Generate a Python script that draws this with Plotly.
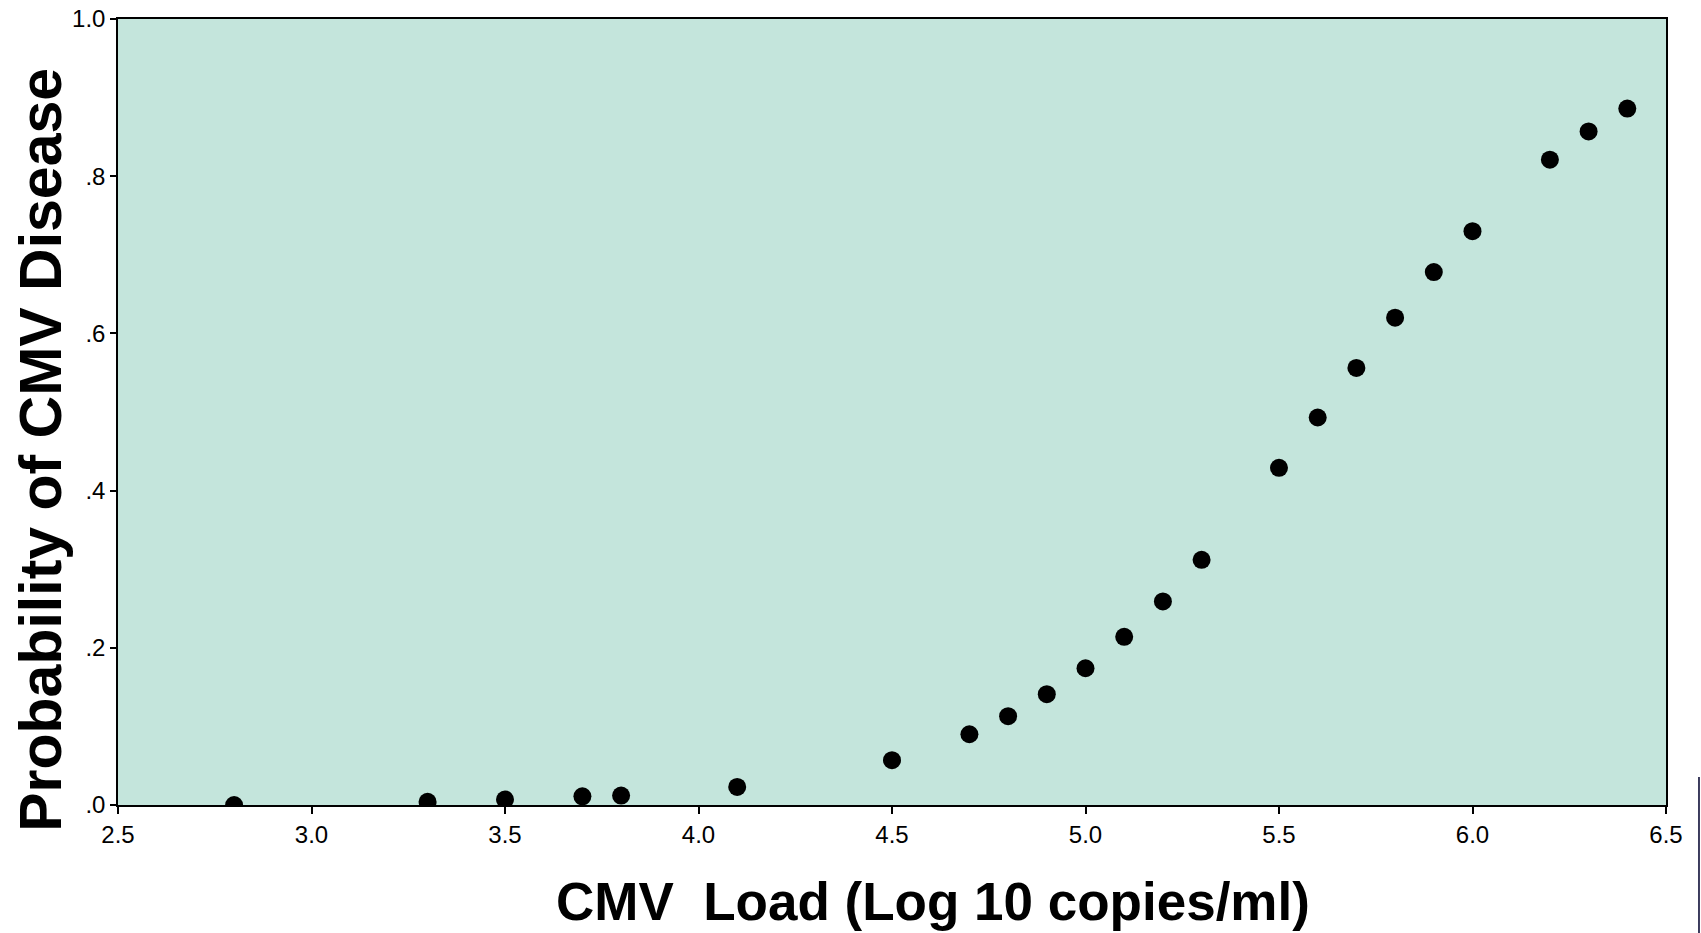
import plotly.graph_objects as go

x_load = [2.8, 3.3, 3.5, 3.7, 3.8, 4.1, 4.5, 4.7, 4.8, 4.9, 5.0, 5.1, 5.2, 5.3,
          5.5, 5.6, 5.7, 5.8, 5.9, 6.0, 6.2, 6.3, 6.4]
y_prob = [0.0, 0.004, 0.007, 0.011, 0.012, 0.023, 0.057, 0.090, 0.113, 0.141,
          0.174, 0.214, 0.259, 0.312, 0.429, 0.493, 0.556, 0.620, 0.678, 0.730,
          0.821, 0.857, 0.886]

x_ticks = [2.5, 3.0, 3.5, 4.0, 4.5, 5.0, 5.5, 6.0, 6.5]
x_ticktext = ["2.5", "3.0", "3.5", "4.0", "4.5", "5.0", "5.5", "6.0", "6.5"]
y_ticks = [0.0, 0.2, 0.4, 0.6, 0.8, 1.0]
y_ticktext = [".0", ".2", ".4", ".6", ".8", "1.0"]

x_title = "CMV&nbsp; Load (Log 10 copies/ml)"
y_title = "Probability of CMV Disease"

font_fam = "Arial, Liberation Sans, sans-serif"

fig = go.Figure()
fig.add_trace(go.Scatter(
    x=x_load, y=y_prob, mode="markers",
    marker=dict(color="black", size=18),
    cliponaxis=True, showlegend=False,
))

fig.update_layout(
    width=1701, height=933,
    margin=dict(l=118, r=35, t=19, b=128),
    paper_bgcolor="white",
    plot_bgcolor="#c4e5dc",
    font=dict(family=font_fam, color="black"),
    xaxis=dict(
        range=[2.5, 6.5], tickvals=x_ticks, ticktext=x_ticktext, automargin=False,
        showgrid=False, zeroline=False, showline=True, linecolor="black",
        linewidth=1.5, mirror=True, ticks="outside", ticklen=7, tickwidth=1.5,
        tickcolor="black", tickfont=dict(size=24, family=font_fam, color="black"),
    ),
    yaxis=dict(
        range=[0, 1.0], tickvals=y_ticks, ticktext=y_ticktext, automargin=False,
        showgrid=False, zeroline=False, showline=True, linecolor="black",
        linewidth=1.5, mirror=True, ticks="outside", ticklen=6, tickwidth=1.5,
        tickcolor="black", tickfont=dict(size=24, family=font_fam, color="black"),
    ),
    annotations=[
        dict(text=x_title, xref="paper", yref="paper", x=0.5265, y=-0.1225,
             xanchor="center", yanchor="middle", showarrow=False,
             font=dict(size=53, family=font_fam, color="black", weight="bold")),
        dict(text=y_title, xref="paper", yref="paper", x=-0.0497, y=0.452,
             xanchor="center", yanchor="middle", showarrow=False, textangle=-90,
             font=dict(size=59, family=font_fam, color="black", weight="bold")),
    ],
    shapes=[
        dict(type="line", xref="paper", yref="paper", x0=1.0213, x1=1.0213,
             y0=0.0356, y1=-0.163, line=dict(color="#3a3a5c", width=2)),
    ],
)

fig.write_html(
    "out.html",
    config={"displayModeBar": False},
    post_script="document.body.style.margin='0';document.body.style.overflow='hidden';",
)
